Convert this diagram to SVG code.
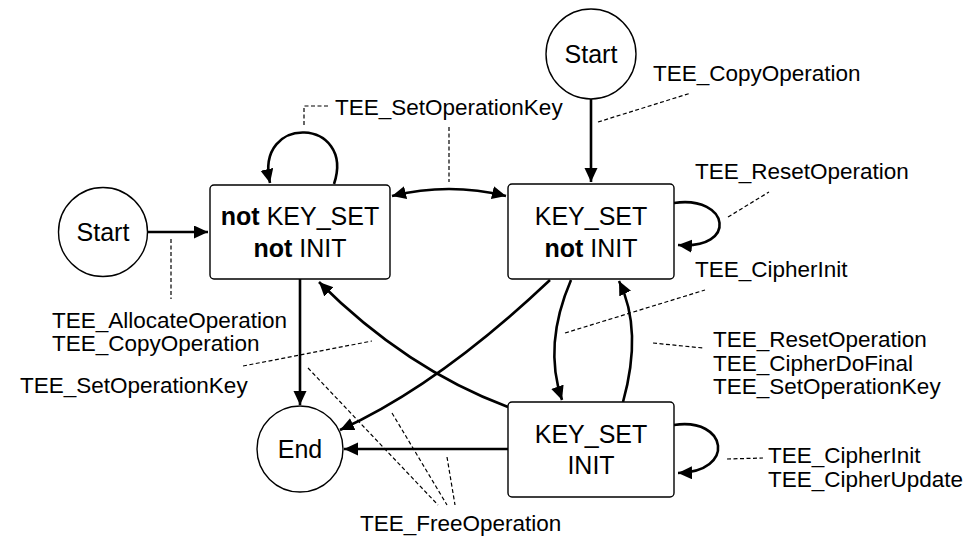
<svg xmlns="http://www.w3.org/2000/svg" width="967" height="538" viewBox="0 0 967 538">
<style>
.node{fill:#fff;stroke:#000;stroke-width:1.4}
.nt{font-family:"Liberation Sans",Arial,sans-serif;font-size:25px;fill:#000;text-anchor:middle}
.b{font-weight:bold}
.lbl{font-family:"Liberation Sans",Arial,sans-serif;font-size:22.5px;fill:#000}
.edge{fill:none;stroke:#000;stroke-width:2.6;marker-end:url(#ah)}
.lead{fill:none;stroke:#000;stroke-width:1.2;stroke-dasharray:4 2.5}
</style>
<defs>
<marker id="ah" markerUnits="userSpaceOnUse" markerWidth="16" markerHeight="14" refX="14" refY="6.5" orient="auto-start-reverse" viewBox="0 0 16 14">
<path d="M0,0 L14,6.5 L0,13 z" fill="#000"/>
</marker>
</defs>
<rect width="967" height="538" fill="#fff"/>
<g id="connectors">
<path class="edge" d="M147,232 L208,232"/>
<path class="edge" d="M591,99 L591,182"/>
<path class="edge" d="M334,184 C356,118 254,113 270,183"/>
<path class="edge" style="marker-start:url(#ah)" d="M392,196 Q449,182 506,196"/>
<path class="edge" d="M674,203 C730,195 738,250 678,245"/>
<path class="edge" d="M674,425 C728,417 736,472 678,473"/>
<path class="edge" d="M300,279 L300,405"/>
<path class="edge" d="M550,280 Q439,385 340,430"/>
<path class="edge" d="M508,407 Q406,369 319,282"/>
<path class="edge" d="M571,280 Q543,345 562,400"/>
<path class="edge" d="M623,402 Q643,330 619,281"/>
<path class="edge" d="M508,449 L344,449"/>
<path class="lead" d="M304,125 L304,106 L330,106"/>
<path class="lead" d="M449,127 L449,182"/>
<path class="lead" d="M171,239 L171,299"/>
<path class="lead" d="M243,366 L372,341"/>
<path class="lead" d="M598,122 L691,93"/>
<path class="lead" d="M728,217 L769,192"/>
<path class="lead" d="M565,333 L705,290"/>
<path class="lead" d="M653,343 L703,348"/>
<path class="lead" d="M727,459 L763,458"/>
<path class="lead" d="M308,368 L438,505"/>
<path class="lead" d="M392,413 L447,505"/>
<path class="lead" d="M447,457 L455,505"/>
</g>
<g id="start-left">
<circle class="node" cx="103" cy="232" r="44.5"/>
<text class="nt" x="103" y="241">Start</text>
</g>
<g id="start-top">
<circle class="node" cx="591" cy="54" r="45"/>
<text class="nt" x="591" y="63">Start</text>
</g>
<g id="end">
<circle class="node" cx="300" cy="449" r="43"/>
<text class="nt" x="300" y="458">End</text>
</g>
<g id="not-keyset-not-init">
<rect class="node" x="210" y="185" width="180" height="94" rx="4"/>
<text class="nt" x="300" y="225"><tspan class="b">not</tspan> KEY_SET</text>
<text class="nt" x="300" y="257"><tspan class="b">not</tspan> INIT</text>
</g>
<g id="keyset-not-init">
<rect class="node" x="508" y="184" width="166" height="95" rx="4"/>
<text class="nt" x="591" y="225">KEY_SET</text>
<text class="nt" x="591" y="257"><tspan class="b">not</tspan> INIT</text>
</g>
<g id="keyset-init">
<rect class="node" x="508" y="402" width="166" height="95" rx="4"/>
<text class="nt" x="591" y="443">KEY_SET</text>
<text class="nt" x="591" y="474">INIT</text>
</g>
<g id="labels">
<text class="lbl" x="335" y="115">TEE_SetOperationKey</text>
<text class="lbl" x="653" y="81">TEE_CopyOperation</text>
<text class="lbl" x="695" y="179">TEE_ResetOperation</text>
<text class="lbl" x="695" y="277">TEE_CipherInit</text>
<text class="lbl" x="713" y="347">TEE_ResetOperation</text>
<text class="lbl" x="713" y="370.5">TEE_CipherDoFinal</text>
<text class="lbl" x="713" y="394">TEE_SetOperationKey</text>
<text class="lbl" x="768" y="463">TEE_CipherInit</text>
<text class="lbl" x="768" y="486.5">TEE_CipherUpdate</text>
<text class="lbl" x="52" y="327.5">TEE_AllocateOperation</text>
<text class="lbl" x="52" y="351">TEE_CopyOperation</text>
<text class="lbl" x="20" y="393">TEE_SetOperationKey</text>
<text class="lbl" x="360" y="531">TEE_FreeOperation</text>
</g>
</svg>
